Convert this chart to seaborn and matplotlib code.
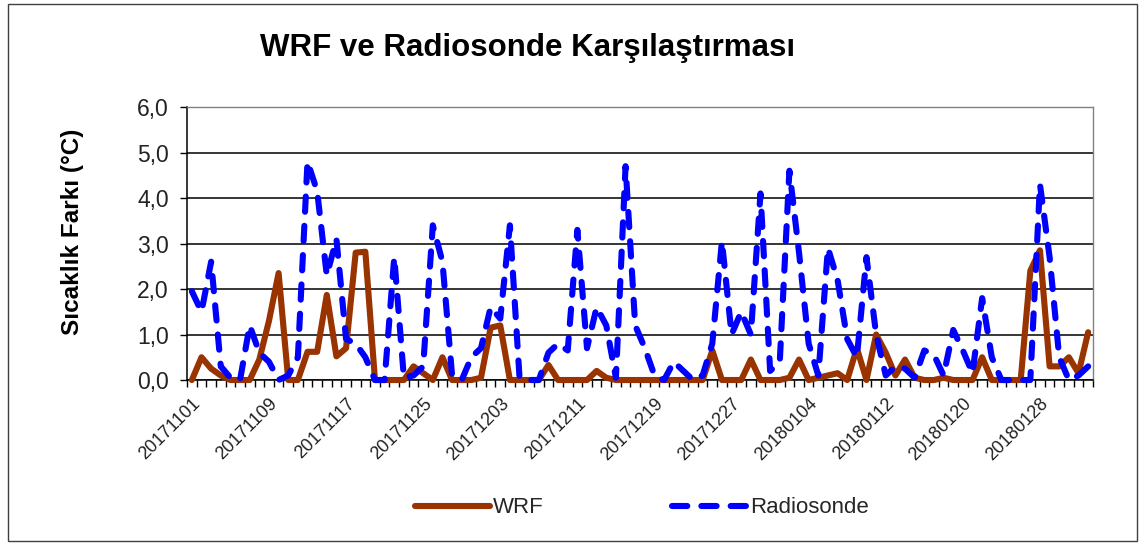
import numpy as np
import pandas as pd
import matplotlib
matplotlib.use('Agg')
import matplotlib.pyplot as plt
import seaborn as sns
from matplotlib.patches import Rectangle
from matplotlib.lines import Line2D

# ---------------- data ----------------
dates = pd.date_range('2017-11-01', periods=94, freq='D').strftime('%Y%m%d').tolist()

wrf = [0.0, 0.5, 0.25, 0.1, 0.0, 0.0, 0.0, 0.45, 1.3, 2.35,
       0.0, 0.0, 0.62, 0.62, 1.87, 0.52, 0.7, 2.8, 2.82, 0.0,
       0.0, 0.0, 0.0, 0.3, 0.15, 0.0, 0.5, 0.0, 0.0, 0.0,
       0.05, 1.15, 1.2, 0.0, 0.0, 0.0, 0.0, 0.33, 0.0, 0.0,
       0.0, 0.0, 0.2, 0.05, 0.0, 0.0, 0.0, 0.0, 0.0, 0.0,
       0.0, 0.0, 0.0, 0.0, 0.65, 0.0, 0.0, 0.0, 0.45, 0.0,
       0.0, 0.0, 0.05, 0.45, 0.0, 0.05, 0.1, 0.15, 0.0, 0.7,
       0.0, 1.0, 0.6, 0.1, 0.45, 0.05, 0.0, 0.0, 0.05, 0.0,
       0.0, 0.0, 0.5, 0.0, 0.0, 0.0, 0.0, 2.4, 2.85, 0.3,
       0.3, 0.5, 0.15, 1.05]

radiosonde = [1.95, 1.5, 2.6, 0.3, 0.05, 0.0, 1.2, 0.6, 0.4, 0.0,
              0.1, 0.5, 4.8, 4.15, 2.3, 3.1, 0.9, 0.8, 0.5, 0.0,
              0.0, 2.7, 0.05, 0.1, 0.3, 3.4, 2.6, 0.1, 0.0, 0.5,
              0.7, 1.6, 1.35, 3.4, 0.05, 0.0, 0.0, 0.6, 0.8, 0.65,
              3.3, 0.7, 1.6, 1.2, 0.05, 4.7, 1.2, 0.7, 0.1, 0.0,
              0.4, 0.2, 0.0, 0.1, 0.8, 3.05, 1.0, 1.5, 1.0, 4.1,
              0.2, 0.4, 4.6, 2.8, 0.8, 0.1, 2.9, 2.2, 0.9, 0.5,
              2.7, 1.0, 0.1, 0.3, 0.25, 0.05, 0.65, 0.55, 0.1, 1.1,
              0.65, 0.15, 1.8, 0.5, 0.0, 0.0, 0.0, 0.0, 4.3, 2.7,
              0.5, 0.0, 0.1, 0.3]

tick_labels = dates[::8]
y_ticks = [0, 1, 2, 3, 4, 5, 6]
y_tick_labels = ['0,0', '1,0', '2,0', '3,0', '4,0', '5,0', '6,0']

title = 'WRF ve Radiosonde Karşılaştırması'
y_label = 'Sıcaklık Farkı (°C)'

wrf_color = '#993300'
rs_color = '#0000FF'
lw = 4.4
rs_dashes = [2.5, 2.3]

# ---------------- plot ----------------
sns.set_theme(style='white')
plt.rcParams['font.family'] = ['Liberation Sans', 'DejaVu Sans']

df = pd.DataFrame({'Tarih': dates, 'pos': np.arange(len(dates)),
                   'WRF': wrf, 'Radiosonde': radiosonde})

fig = plt.figure(figsize=(11.44, 5.46), dpi=100)
fig.patch.set_facecolor('white')
ax = fig.add_axes([0.1635, 0.304, 0.7919, 0.500])

sns.lineplot(data=df, x='pos', y='WRF', ax=ax, color=wrf_color,
             linewidth=lw, legend=False)
sns.lineplot(data=df, x='pos', y='Radiosonde', ax=ax, color=rs_color,
             linewidth=lw, legend=False)
l_wrf, l_rs = ax.lines[0], ax.lines[1]
for ln in (l_wrf, l_rs):
    ln.set_clip_on(False)
    ln.set_solid_joinstyle('round')
    ln.set_zorder(3)
l_rs.set_dashes(rs_dashes)
l_rs.set_dash_capstyle('round')
l_rs.set_zorder(4)

ax.set_xlim(-0.5, len(dates) - 0.5)
ax.set_ylim(0, 6)
ax.set_xlabel('')
ax.set_ylabel('')

ax.set_yticks(y_ticks)
ax.set_yticklabels(y_tick_labels, fontsize=16.5, color='#222222')
ax.yaxis.grid(True, color='black', linewidth=1.1)
ax.xaxis.grid(False)
ax.set_axisbelow(True)

ax.set_xticks(np.arange(0, len(dates), 8))
ax.set_xticklabels(tick_labels, rotation=45, ha='right',
                   rotation_mode='anchor', fontsize=13, color='#222222')
ax.set_xticks(np.arange(-0.5, len(dates), 1), minor=True)
ax.tick_params(axis='x', which='major', length=0, pad=11)
ax.tick_params(axis='x', which='minor', length=5, width=1, color='black',
               direction='out', bottom=True)
ax.tick_params(axis='y', which='major', length=5, width=1, color='black',
               direction='out', left=True, pad=8)

for side in ('left', 'bottom'):
    ax.spines[side].set_color('black')
    ax.spines[side].set_linewidth(1.1)
for side in ('top', 'right'):
    ax.spines[side].set_color('#808080')
    ax.spines[side].set_linewidth(1.0)

fig.text(0.461, 0.912, title, ha='center', va='center',
         fontsize=22.5, fontweight='bold', color='black')
fig.text(0.063, 0.575, y_label, ha='center', va='center', rotation=90,
         fontsize=17.5, fontweight='bold', color='black')

h_wrf = Line2D([], [], color=wrf_color, linewidth=lw, solid_capstyle='round')
h_rs = Line2D([], [], color=rs_color, linewidth=lw, dash_capstyle='round')
h_rs.set_dashes(rs_dashes)
fig.legend([h_wrf, h_rs], ['WRF', 'Radiosonde'], loc='center',
           bbox_to_anchor=(0.561, 0.070), ncol=2, frameon=False,
           fontsize=16, handlelength=3.4, handletextpad=0.1,
           columnspacing=5.8)

fig.patches.append(Rectangle((8 / 1144, 5 / 546), 1129 / 1144, 537 / 546,
                             transform=fig.transFigure, fill=False,
                             edgecolor='#404040', linewidth=1.0))

fig.savefig('out.png', dpi=100, facecolor='white')
